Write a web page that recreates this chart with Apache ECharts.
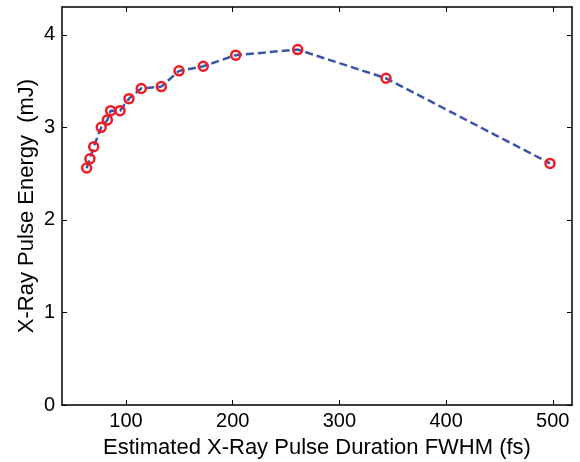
<!DOCTYPE html>
<html>
<head>
<meta charset="utf-8">
<script src="https://cdn.jsdelivr.net/npm/echarts@6/dist/echarts.min.js"></script>
<style>html,body{margin:0;padding:0;background:#fff;}#c{width:580px;height:462px;}</style>
</head>
<body>
<div id="c"></div>
<script>
var durations = [63.1, 66.2, 69.7, 76.8, 82.5, 85.6, 94.4, 102.8, 114.3, 133.1, 149.7, 172.4, 202.8, 260.9, 343.7, 497.4];
var energies  = [2.56, 2.66, 2.79, 3.00, 3.08, 3.18, 3.18, 3.31, 3.42, 3.44, 3.61, 3.66, 3.78, 3.84, 3.53, 2.61];
var xTicks = [100, 200, 300, 400, 500];
var yTicks = [0, 1, 2, 3, 4];
var xTitle = 'Estimated X-Ray Pulse Duration FWHM (fs)';
var yTitle = 'X-Ray Pulse Energy  (mJ)';

var font = 'Liberation Sans, Arial, Helvetica, sans-serif';
var chart = echarts.init(document.getElementById('c'));
var axisLine = {show: true, onZero: false, lineStyle: {color: '#000', width: 1.5}};
var tick = function (vals) { return {show: true, inside: true, length: 5, customValues: vals, lineStyle: {color: '#000', width: 1}}; };
var data = durations.map(function (d, i) { return [d, energies[i]]; });
chart.setOption({
  animation: false,
  backgroundColor: '#fff',
  grid: {left: 62, right: 8, top: 7, bottom: 57, containLabel: false, outerBoundsMode: 'none'},
  xAxis: [{
    type: 'value', min: 40, max: 518, position: 'bottom',
    axisLine: axisLine, axisTick: tick(xTicks), splitLine: {show: false},
    axisLabel: {customValues: xTicks, color: '#000', fontSize: 20, fontFamily: font, margin: 6},
    name: xTitle, nameLocation: 'middle', nameGap: 32, nameMoveOverlap: false,
    nameTextStyle: {color: '#000', fontSize: 22, fontFamily: font}
  }, {
    type: 'value', min: 40, max: 518, position: 'top',
    axisLine: axisLine, axisTick: tick(xTicks), splitLine: {show: false},
    axisLabel: {show: false}
  }],
  yAxis: [{
    type: 'value', min: 0, max: 4.3, position: 'left',
    axisLine: axisLine, axisTick: tick(yTicks), splitLine: {show: false},
    axisLabel: {customValues: yTicks, color: '#000', fontSize: 20, fontFamily: font, margin: 7},
    name: yTitle, nameLocation: 'middle', nameGap: 24, nameRotate: 90, nameMoveOverlap: false,
    nameTextStyle: {color: '#000', fontSize: 22, fontFamily: font}
  }, {
    type: 'value', min: 0, max: 4.3, position: 'right',
    axisLine: axisLine, axisTick: tick(yTicks), splitLine: {show: false},
    axisLabel: {show: false}
  }],
  series: [{
    type: 'line', data: data, xAxisIndex: 0, yAxisIndex: 0,
    lineStyle: {color: '#3b55a8', width: 2.5, type: [8, 4]},
    symbol: 'circle', symbolSize: 9,
    itemStyle: {color: 'rgba(255,255,255,0)', borderColor: '#ee1c24', borderWidth: 2.5}
  }]
});
</script>
</body>
</html>
